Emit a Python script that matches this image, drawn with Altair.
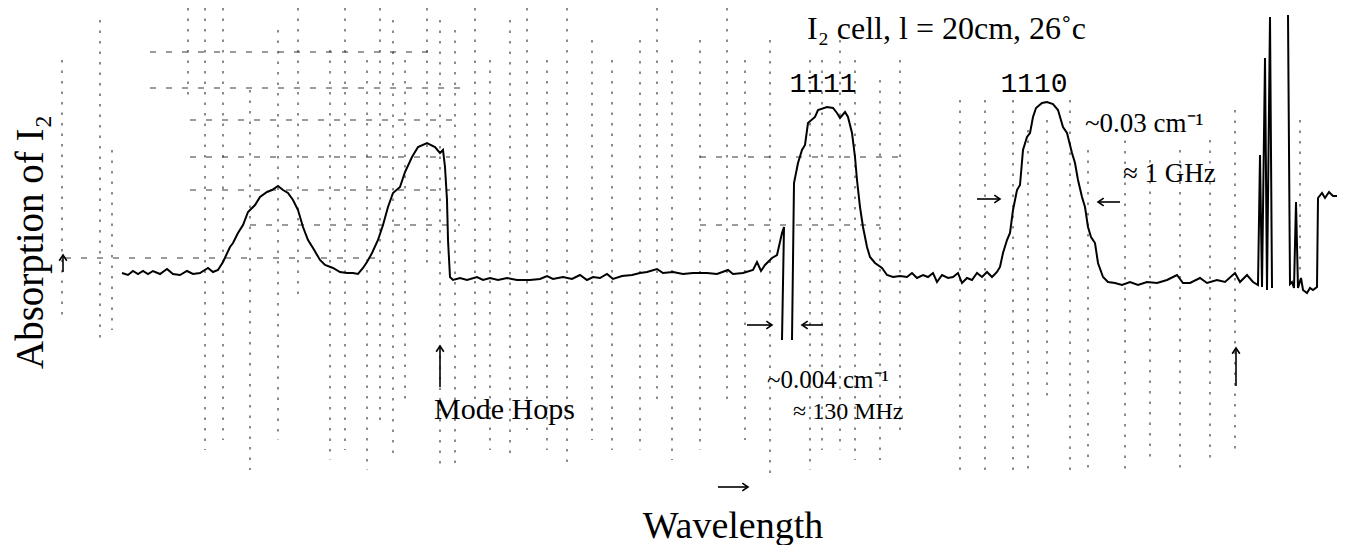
import altair as alt
import pandas as pd

# ---------------- data ----------------
# recorder trace: wavelength position (arb.) and I2 absorption (arb.)
trace_x = [122, 128, 133, 138, 143, 148, 153, 160, 167, 173, 180, 187, 193, 200, 208, 213, 218,
           223, 230, 233, 238, 243, 248, 255, 260, 267, 272, 278, 283, 288, 293, 298, 303, 308,
           313, 320, 325, 333, 340, 347, 353, 358, 363, 367, 372, 378, 383, 388, 393, 400, 405,
           412, 418, 427, 435, 440, 443, 445, 447, 448, 450, 453, 460, 467, 477, 483, 490, 498,
           507, 517, 530, 540, 547, 553, 563, 572, 580, 587, 593, 600, 607, 613, 622, 632, 640,
           647, 657, 663, 673, 683, 693, 707, 717, 728, 733, 743, 753, 757, 761, 765, 772, 777,
           782, 784, 782, 792, 794, 798, 802, 805, 808, 815, 818, 827, 833, 837, 840, 845, 848,
           852, 855, 857, 860, 863, 867, 870, 875, 882, 887, 893, 900, 907, 912, 917, 923, 928,
           933, 937, 942, 948, 953, 958, 962, 967, 972, 977, 982, 987, 992, 997, 1000, 1003,
           1007, 1010, 1013, 1017, 1020, 1023, 1027, 1030, 1033, 1036, 1042, 1047, 1053, 1058,
           1063, 1067, 1072, 1075, 1078, 1082, 1085, 1088, 1091, 1095, 1098, 1103, 1108, 1115,
           1122, 1130, 1138, 1147, 1157, 1167, 1177, 1183, 1190, 1200, 1207, 1217, 1225, 1235,
           1240, 1247, 1253, 1258, 1260, 1262, 1265, 1267, 1270, 1272,
           1288, 1290, 1292, 1294, 1296, 1298, 1301, 1303, 1307, 1310, 1313, 1317, 1318, 1322,
           1325, 1329, 1333, 1337]
trace_y = [27, 25, 29, 26, 29, 26, 29, 26, 31, 26, 25, 29, 26, 27, 32, 28, 30,
           38, 53, 57, 67, 75, 88, 95, 103, 108, 110, 114, 110, 107, 100, 90, 73, 60,
           52, 40, 35, 32, 28, 27, 27, 26, 32, 38, 47, 60, 75, 93, 107, 113, 128,
           143, 153, 157, 153, 147, 150, 133, 100, 60, 23, 20, 22, 20, 23, 20, 22, 20,
           22, 20, 20, 21, 24, 21, 23, 21, 25, 20, 23, 22, 26, 21, 24, 25, 27,
           28, 31, 27, 28, 26, 27, 27, 26, 30, 26, 27, 30, 38, 29, 35, 42, 45,
           67, 73, -40, -40, 117, 137, 150, 155, 177, 183, 190, 193, 192, 187, 182, 188, 183,
           167, 143, 120, 93, 73, 53, 43, 37, 32, 25, 23, 24, 23, 27, 22, 25, 23,
           27, 18, 25, 22, 23, 27, 17, 22, 20, 27, 23, 28, 23, 28, 33, 47,
           60, 67, 90, 110, 115, 150, 163, 167, 183, 192, 197, 198, 196, 190,
           173, 167, 147, 137, 120, 103, 93, 73, 63, 57, 37, 23, 18, 17,
           15, 18, 15, 18, 17, 20, 25, 17, 17, 22, 17, 20, 18, 27,
           18, 25, 18, 15, 145, 13, 242, 10, 283, 12,
           285, 16, 18, 12, 98, 12, 22, 10, 7, 12, 10, 13, 102, 107,
           102, 108, 104, 104]
# the pen drops off the chart in the narrow dip (returns at x = 792) and runs
# off-scale after the first burst (returns at x = 1288)
dip_return = trace_x.index(792)
pen_return = trace_x.index(1288)
trace_seg = ([0] * dip_return + [1] * (pen_return - dip_return)
             + [2] * (len(trace_x) - pen_return))

# faint graph-paper rulings of the scan (vertical dotted strokes)
grid_x = [62, 100, 112, 188, 205, 223, 250, 278, 298, 330, 345, 367, 380, 393, 405, 427, 440,
          455, 475, 490, 510, 527, 547, 567, 592, 612, 640, 657, 672, 700, 727, 745, 770, 810,
          822, 840, 855, 880, 900, 960, 985, 1013, 1028, 1047, 1070, 1088, 1125, 1150, 1180,
          1210, 1235, 1300]
grid_top = [240, 280, 150, 292, 292, 292, 210, 270, 292, 250, 292, 240, 292, 280, 240, 292, 280,
            270, 292, 240, 280, 292, 240, 292, 260, 240, 260, 292, 240, 260, 292, 240, 260, 240,
            240, 260, 240, 220, 240, 200, 200, 200, 170, 180, 200, 150, 170, 140, 150,
            160, 190, 180]
grid_bot = [-20, -40, -30, 200, -150, -140, -170, -140, 0, -160, -150, -170, -120, -160, -100, 30,
            -170, -170, -100, -150, -160, -130, -150, -170, -140, -150, -150, -100, -160, -150,
            -100, -140, -180, -170, -150, -150, -160, -160, -130, -170, -170, -170, -170, -100,
            -170, -170, -170, -160, -170, -160, -150, 30]
# horizontal dashed rulings
hgrid_y = [248, 212, 180, 143, 143, 110, 75, 75, 42]
hgrid_x1 = [150, 150, 190, 190, 700, 190, 250, 700, 65]
hgrid_x2 = [430, 470, 460, 450, 900, 450, 460, 880, 380]

# annotations
ann_text = ["I\u2082 cell, l = 20cm, 26\u02dac", "~0.03 cm\u207b\u00b9", "\u2248 1 GHz",
            "Mode Hops", "~0.004 cm\u207b\u00b9", "\u2248 130 MHz"]
ann_x = [807, 1085, 1123, 434, 767, 793]
ann_y = [271, 176, 126, -110, -80, -112]
ann_size = [32, 27, 27, 30, 25, 24]

peak_text = ["1111", "1110"]
peak_x = [823, 1034]
peak_y = [216, 216]

# arrows: tail (x, y) -> tip (x2, y2)
arr_x = [63, 440, 1236, 977, 1120, 747, 823, 718]
arr_y = [28, -87, -86, 101, 98, -25, -25, -187]
arr_x2 = [63, 440, 1236, 1000, 1098, 772, 802, 748]
arr_y2 = [45, -46, -48, 101, 98, -25, -25, -187]
arr_dir = [0, 0, 0, 90, 270, 90, 270, 90]

# ---------------- chart ----------------
XS = alt.Scale(domain=[8, 1337], nice=False, zero=False)
YS = alt.Scale(domain=[-245, 292], nice=False, zero=False)

trace = pd.DataFrame({"x": trace_x, "y": trace_y, "seg": trace_seg,
                      "i": list(range(len(trace_x)))})
grid = pd.DataFrame({"x": grid_x, "y": grid_top, "y2": grid_bot})
hgrid = pd.DataFrame({"y": hgrid_y, "x": hgrid_x1, "x2": hgrid_x2})
ann = pd.DataFrame({"t": ann_text, "x": ann_x, "y": ann_y, "s": ann_size})
peaks = pd.DataFrame({"t": peak_text, "x": peak_x, "y": peak_y})
arrows = pd.DataFrame({"x": arr_x, "y": arr_y, "x2": arr_x2, "y2": arr_y2, "a": arr_dir})

vgrid_l = alt.Chart(grid).mark_rule(color="#222", strokeWidth=1.5, strokeDash=[2.5, 8],
                                    opacity=0.7).encode(
    x=alt.X("x:Q", scale=XS, axis=None),
    y=alt.Y("y:Q", scale=YS, axis=None), y2="y2:Q")

hgrid_l = alt.Chart(hgrid).mark_rule(color="#222", strokeWidth=1.3, strokeDash=[6, 10],
                                     opacity=0.6).encode(
    x=alt.X("x:Q", scale=XS, axis=None), x2="x2:Q",
    y=alt.Y("y:Q", scale=YS, axis=None))

line = alt.Chart(trace).mark_line(color="black", strokeWidth=2, interpolate="linear").encode(
    x=alt.X("x:Q", scale=XS, axis=None),
    y=alt.Y("y:Q", scale=YS, axis=None),
    detail="seg:N",
    order="i:Q")

ann_l = alt.Chart(ann).mark_text(align="left", baseline="middle", font="Liberation Serif",
                                 color="black").encode(
    x=alt.X("x:Q", scale=XS, axis=None),
    y=alt.Y("y:Q", scale=YS, axis=None),
    text="t:N",
    size=alt.Size("s:Q", scale=None, legend=None))

peak_l = alt.Chart(peaks).mark_text(align="center", baseline="middle", font="Liberation Mono",
                                    fontSize=28, color="black").encode(
    x=alt.X("x:Q", scale=XS, axis=None),
    y=alt.Y("y:Q", scale=YS, axis=None),
    text="t:N")

ylab = alt.Chart(pd.DataFrame({"t": ["Absorption of I\u2082"], "x": [31], "y": [58]})).mark_text(
    angle=270, align="center", baseline="middle", font="Liberation Serif", fontSize=39,
    color="black").encode(
    x=alt.X("x:Q", scale=XS, axis=None),
    y=alt.Y("y:Q", scale=YS, axis=None),
    text="t:N")

xlab = alt.Chart(pd.DataFrame({"t": ["Wavelength"], "x": [733], "y": [-227]})).mark_text(
    align="center", baseline="middle", font="Liberation Serif", fontSize=38,
    color="black").encode(
    x=alt.X("x:Q", scale=XS, axis=None),
    y=alt.Y("y:Q", scale=YS, axis=None),
    text="t:N")

shaft = alt.Chart(arrows).mark_rule(color="black", strokeWidth=1.6).encode(
    x=alt.X("x:Q", scale=XS, axis=None), x2="x2:Q",
    y=alt.Y("y:Q", scale=YS, axis=None), y2="y2:Q")

head = alt.Chart(arrows).mark_point(shape="M-0.5,0.75L0,0L0.5,0.75", filled=False,
                                    color="black", strokeWidth=1.6, size=230,
                                    opacity=1).encode(
    x=alt.X("x2:Q", scale=XS, axis=None),
    y=alt.Y("y2:Q", scale=YS, axis=None),
    angle=alt.Angle("a:Q", scale=None))

chart = alt.layer(vgrid_l, hgrid_l, line, shaft, head, ann_l, peak_l, ylab, xlab).properties(
    width=1329, height=537, padding=0,
    autosize=alt.AutoSizeParams(type="none"),
    background="white"
).configure_view(stroke=None)

chart.save("out.html", embed_options={"renderer": "svg", "actions": False})
